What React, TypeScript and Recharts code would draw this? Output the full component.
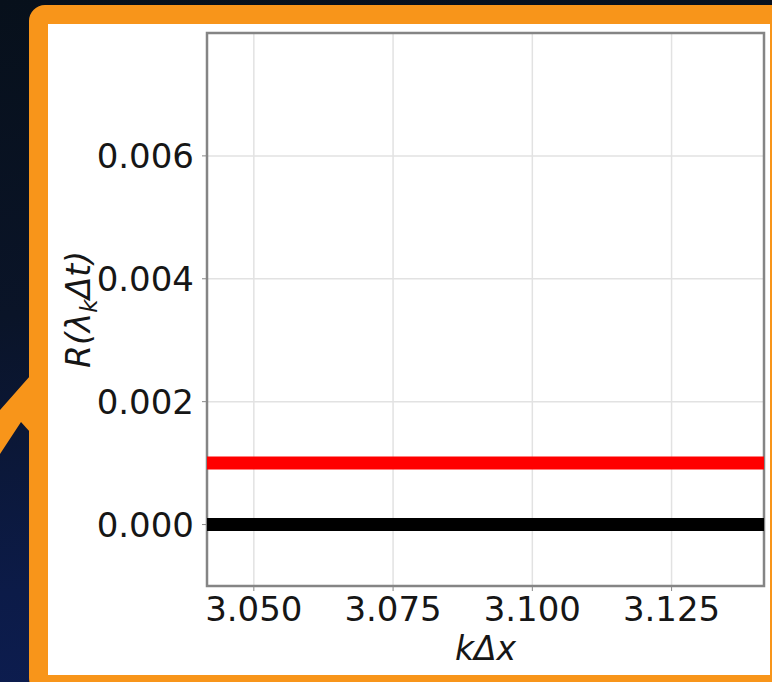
import React from 'react';
import {
  LineChart, Line, XAxis, YAxis, CartesianGrid, ReferenceArea, Label
} from 'recharts';

// wavenumber range (k·Δx) and the two flat curves
const kDx = [Math.PI - 0.1, Math.PI];
const exactR = [0, 0];
const schemeR = [0.001, 0.001];

const xTicks = [3.05, 3.075, 3.1, 3.125];
const yTicks = [0, 0.002, 0.004, 0.006];
const xDomain: [number, number] = [Math.PI - 0.1, Math.PI];
const yDomain: [number, number] = [-0.001, 0.008];

const data = kDx.map((k, i) => ({ k, exact: exactR[i], scheme: schemeR[i] }));

const FONT = '"DejaVu Sans", Verdana, sans-serif';
const W = 772;
const H = 682;

const YLabel = (props: any) => {
  const vb = props.viewBox || { x: 0, y: 33, width: 207, height: 553 };
  const cx = 90;
  const cy = vb.y + vb.height / 2;
  return (
    <text
      x={cx}
      y={cy}
      transform={`rotate(-90, ${cx}, ${cy})`}
      textAnchor="middle"
      fontFamily={FONT}
      fontStyle="italic"
      fontSize={33}
      fill="#161616"
    >
      R(λ<tspan dy={7} fontSize={23}>k</tspan><tspan dy={-7}>Δt)</tspan>
    </text>
  );
};

const XLabel = (props: any) => {
  const vb = props.viewBox || { x: 207, y: 586, width: 557, height: 96 };
  return (
    <text
      x={vb.x + vb.width / 2}
      y={660}
      textAnchor="middle"
      fontFamily={FONT}
      fontStyle="italic"
      fontSize={33}
      fill="#161616"
    >
      kΔx
    </text>
  );
};

const App: React.FC = () => {
  return (
    <div
      style={{
        position: 'absolute',
        left: 0,
        top: 0,
        width: W,
        height: H,
        overflow: 'hidden',
        background: 'linear-gradient(172deg, #07101b 0%, #0a1428 40%, #0c1b48 75%, #0d1e55 100%)',
      }}
    >
      {/* orange callout arrow pointing into the frame */}
      <svg width={40} height={H} style={{ position: 'absolute', left: 0, top: 0 }}>
        <polygon points="0,410 30,376 30,432 21,422 0,454" fill="#f8951a" />
      </svg>

      {/* orange framed white panel */}
      <div
        style={{
          position: 'absolute',
          left: 29,
          top: 5,
          width: 760,
          height: 689,
          boxSizing: 'border-box',
          border: '19px solid #f8951a',
          borderRadius: 16,
          background: '#ffffff',
        }}
      />

      <div style={{ position: 'absolute', left: 0, top: 0 }}>
        <LineChart
          width={W}
          height={H}
          data={data}
          margin={{ top: 33, right: 8, bottom: 0, left: 0 }}
        >
          <CartesianGrid stroke="#e2e2e2" strokeWidth={1.5} horizontalValues={yTicks} verticalValues={xTicks} />
          <XAxis
            dataKey="k"
            type="number"
            domain={xDomain}
            ticks={xTicks}
            allowDataOverflow
            height={96}
            tickFormatter={(v: number) => v.toFixed(3)}
            tick={{ fontFamily: FONT, fontSize: 34, fill: '#161616' }}
            tickSize={5}
            tickMargin={6}
            axisLine={false}
            tickLine={{ stroke: '#888' }}
          >
            <Label content={XLabel} />
          </XAxis>
          <YAxis
            type="number"
            domain={yDomain}
            ticks={yTicks}
            allowDataOverflow
            width={207}
            tickFormatter={(v: number) => v.toFixed(3)}
            tick={{ fontFamily: FONT, fontSize: 34, fill: '#161616' }}
            tickSize={5}
            tickMargin={8}
            axisLine={false}
            tickLine={{ stroke: '#888' }}
          >
            <Label content={YLabel} />
          </YAxis>
          <ReferenceArea
            x1={xDomain[0]}
            x2={xDomain[1]}
            y1={yDomain[0]}
            y2={yDomain[1]}
            fill="none"
            stroke="#858585"
            strokeWidth={2.5}
            ifOverflow="visible"
          />
          <Line
            dataKey="scheme"
            stroke="#ff0000"
            strokeWidth={13}
            dot={false}
            activeDot={false}
            isAnimationActive={false}
          />
          <Line
            dataKey="exact"
            stroke="#000000"
            strokeWidth={13}
            dot={false}
            activeDot={false}
            isAnimationActive={false}
          />
        </LineChart>
      </div>
    </div>
  );
};

export default App;
